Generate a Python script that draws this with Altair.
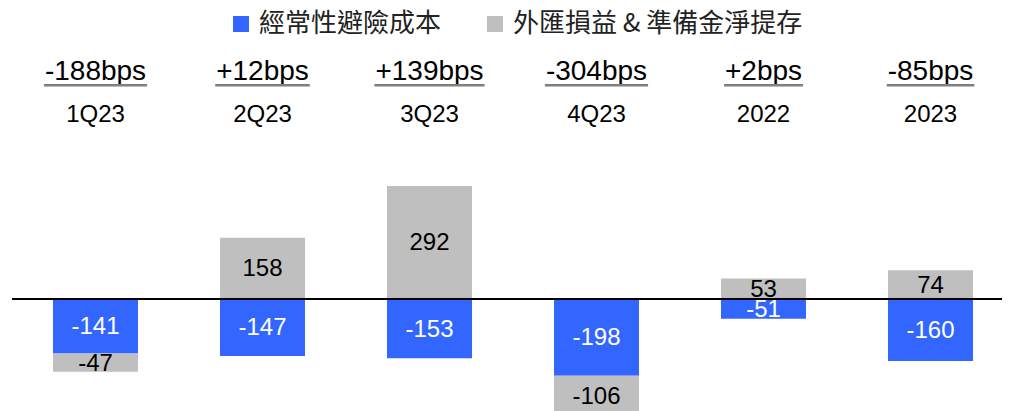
import altair as alt
import pandas as pd

# ---- data ----
periods = ["1Q23", "2Q23", "3Q23", "4Q23", "2022", "2023"]
bps_labels = ["-188bps", "+12bps", "+139bps", "-304bps", "+2bps", "-85bps"]
hedge_cost = [-141, -147, -153, -198, -51, -160]
fx_reserve = [-47, 158, 292, -106, 53, 74]

S1 = "經常性避險成本"
S2 = "外匯損益 & 準備金淨提存"
BLUE = "#3366FF"
GRAY = "#BFBFBF"

rows = []
for p, h, f in zip(periods, hedge_cost, fx_reserve):
    rows.append({"period": p, "series": S1, "value": h, "start": 0, "end": h})
    if (f < 0) == (h < 0):
        s, e = h, h + f
    else:
        s, e = 0, f
    rows.append({"period": p, "series": S2, "value": f, "start": s, "end": e})
bars_df = pd.DataFrame(rows)
bars_df["mid"] = (bars_df["start"] + bars_df["end"]) / 2
bars_df["label"] = bars_df["value"].astype(str)

# approximate Arial advance widths for underline length
CW = {"-": 0.333, "+": 0.584, "b": 0.556, "p": 0.556, "s": 0.5}
BPS_FS = 28
head_df = pd.DataFrame({
    "period": periods,
    "bps": bps_labels,
})
head_df["uw"] = [sum(CW.get(c, 0.556) for c in t) * BPS_FS + 2 for t in bps_labels]

W, H = 994, 403
x_enc = alt.X("period:N", sort=periods, axis=None,
              scale=alt.Scale(range=[45, 965], paddingInner=0.491, paddingOuter=0))
y_scale = alt.Scale(domain=[-289.4, 751.9], nice=False, zero=False)

bars = alt.Chart(bars_df).mark_bar(clip=True, strokeWidth=0).encode(
    x=x_enc,
    y=alt.Y("start:Q", scale=y_scale, axis=None),
    y2="end:Q",
    color=alt.Color("series:N", sort=[S1, S2],
                    scale=alt.Scale(domain=[S1, S2], range=[BLUE, GRAY]),
                    legend=alt.Legend(title=None, orient="none", legendX=220, legendY=3,
                                      direction="horizontal", symbolType="square",
                                      symbolSize=256, symbolStrokeWidth=0,
                                      labelFont="Noto Sans CJK TC", labelFontSize=26,
                                      labelColor="#222222", labelOffset=5, labelLimit=600,
                                      columnPadding=40, padding=0)),
)

zero_line = alt.Chart(bars_df).mark_rule(color="black", strokeWidth=1.5).encode(
    y=alt.Y(datum=0, scale=y_scale),
    x=alt.value(4.7),
    x2=alt.value(W),
)

lab_blue = alt.Chart(bars_df).transform_filter(alt.datum.series == S1).mark_text(
    font="Liberation Sans", fontSize=24, color="white", baseline="middle", dy=1
).encode(x=x_enc, y=alt.Y("mid:Q", scale=y_scale), text="label:N")

lab_gray = alt.Chart(bars_df).transform_filter(alt.datum.series == S2).mark_text(
    font="Liberation Sans", fontSize=24, color="black", baseline="middle", dy=1
).encode(x=x_enc, y=alt.Y("mid:Q", scale=y_scale), text="label:N")

bps_text = alt.Chart(head_df).mark_text(
    font="Liberation Sans", fontSize=BPS_FS, color="black", baseline="alphabetic"
).encode(x=x_enc, y=alt.value(72), text="bps:N")

underline = alt.Chart(head_df).mark_bar(color="#7F7F7F").encode(
    x=x_enc, y=alt.value(76), y2=alt.value(78.5),
    size=alt.Size("uw:Q", scale=None, legend=None),
)

period_text = alt.Chart(head_df).mark_text(
    font="Liberation Sans", fontSize=24, color="black", baseline="alphabetic"
).encode(x=x_enc, y=alt.value(113.7), text="period:N")

chart = alt.layer(
    bars, zero_line, lab_blue, lab_gray, bps_text, underline, period_text
).properties(
    width=W, height=H, padding=0, autosize=alt.AutoSizeParams(type="none"),
).configure_view(stroke=None)

chart.save("out.html", embed_options={"renderer": "svg", "actions": False})
